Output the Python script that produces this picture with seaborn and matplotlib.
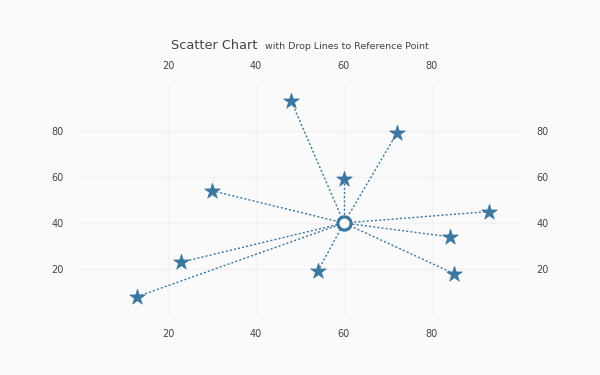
import numpy as np
import pandas as pd
import seaborn as sns
import matplotlib.pyplot as plt

# values
x_vals = [13, 23, 30, 48, 54, 60, 72, 84, 85, 93]
y_vals = [8, 23, 54, 93, 19, 59, 79, 34, 18, 45]
ref_x = 60
ref_y = 40
ticks = [20, 40, 60, 80]

BLUE = '#3b77a0'
TEXT = '#444444'
BG = '#fafafa'

df = pd.DataFrame({'x': x_vals, 'y': y_vals})

sns.set_theme(style='white')
plt.rcParams['font.family'] = ['DejaVu Sans']

fig = plt.figure(figsize=(6, 3.75), dpi=100, facecolor=BG)
ax = fig.add_axes([80/600, 60/375, 440/600, 230/375])
ax.set_facecolor(BG)

# drop lines to reference point
for xi, yi in zip(df['x'], df['y']):
    ax.plot([xi, ref_x], [yi, ref_y], color=BLUE, lw=1, ls=(0, (1.5, 1.5)), zorder=2)

sns.scatterplot(data=df, x='x', y='y', marker='*', s=140, color=BLUE,
                edgecolor=BLUE, linewidth=0.5, ax=ax, zorder=3)
ax.scatter([ref_x], [ref_y], s=90, facecolor='white', edgecolor=BLUE,
           linewidth=2.3, zorder=4)

ax.set_xlim(0, 100)
ax.set_ylim(0, 100)
ax.set_xticks(ticks)
ax.set_yticks(ticks)
ax.set_xlabel('')
ax.set_ylabel('')
ax.grid(True, color='#f2f2f2', lw=1)
ax.set_axisbelow(True)
for s in ax.spines.values():
    s.set_visible(False)
ax.tick_params(axis='both', length=0, labelsize=7, labelcolor=TEXT,
               top=False, bottom=False, left=False, right=False,
               labeltop=True, labelbottom=True, labelleft=True, labelright=True)
ax.tick_params(axis='x', pad=10)
ax.tick_params(axis='y', pad=12)

fig.text(171/600, 1 - 49/375, 'Scatter Chart', fontsize=9.3, color=TEXT, va='baseline', ha='left')
fig.text(265/600, 1 - 49/375, 'with Drop Lines to Reference Point', fontsize=6.8, color=TEXT,
         va='baseline', ha='left')

fig.savefig('out.png', dpi=100, facecolor=BG)
